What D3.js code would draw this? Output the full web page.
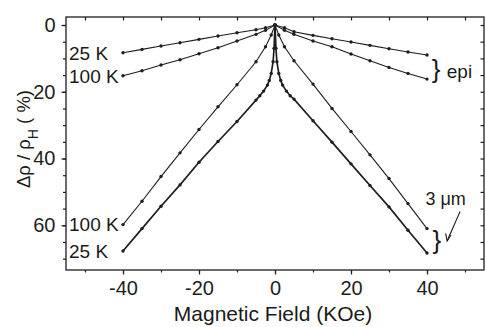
<!DOCTYPE html>
<html>
<head>
<meta charset="utf-8">
<script src="https://cdn.jsdelivr.net/npm/d3@7"></script>
<style>
  body { margin: 0; background: #fff; }
  text { font-family: "Liberation Sans", Arial, sans-serif; fill: #1a1a1a; }
</style>
</head>
<body>
<div class="main_contain"></div>
<script>
// field values (KOe) and resistance change (%)
var fieldEpi = [-40, -35, -30, -25, -20, -15, -10, -5, -2.5, 0, 2.5, 5, 10, 15, 20, 25, 30, 35, 40];
var epi25K = [8.3, 7.3, 6.3, 5.3, 4.3, 3.3, 2.3, 1.4, 0.8, 0, 0.8, 2.0, 3.1, 4.1, 5.1, 6.1, 7.1, 8.1, 9.0];
var epi100K = [15.2, 13.7, 12.0, 10.4, 8.6, 6.8, 4.8, 2.8, 1.6, 0, 1.6, 2.8, 4.8, 6.5, 8.7, 10.7, 12.7, 14.5, 16.2];

var field3um100K = [-40, -35, -30, -25, -20, -15, -10, -5, -2.5, -1, 0, 1, 2.5, 5, 10, 15, 20, 25, 30, 35, 40];
var um100K = [59.8, 52.8, 45.4, 38.3, 31.3, 24.5, 17.9, 11.0, 6.5, 3.0, 0, 3.0, 6.5, 10.7, 17.7, 25.0, 31.9, 38.9, 46.0, 53.5, 61.0];

var field3um25K = [-40, -35, -30, -25, -20, -15, -10, -5, -4, -3, -2, -1.5, -1, -0.5, -0.25, 0,
                   0.25, 0.5, 1, 1.5, 2, 3, 4, 5, 10, 15, 20, 25, 30, 35, 40];
var um25K = [67.7, 61.0, 54.3, 47.9, 41.1, 34.9, 28.9, 22.5, 21.2, 19.8, 18.0, 16.6, 14.5, 11.0, 7.0, 0,
             7.0, 11.0, 14.5, 16.6, 18.0, 19.8, 21.2, 22.2, 28.7, 35.1, 41.6, 48.1, 54.5, 61.5, 68.3];

var xTicks = [-40, -20, 0, 20, 40];
var yTicks = [0, 20, 40, 60];

function toPoints(xs, ys){
  return xs.map((d, i) => ({ H: d, v: ys[i] }));
}

var series = [
  { name: "epi25K", pts: toPoints(fieldEpi, epi25K), w: 1.1 },
  { name: "epi100K", pts: toPoints(fieldEpi, epi100K), w: 1.1 },
  { name: "um100K", pts: toPoints(field3um100K, um100K), w: 1.1 },
  { name: "um25K", pts: toPoints(field3um25K, um25K), w: 1.7 }
];

var svg_width = 486;
var svg_height = 327;
var margins = { top: 17, bottom: 57, right: 2, left: 66 };
var width = svg_width - margins.left - margins.right;
var height = svg_height - margins.top - margins.bottom;

var svg = d3.select(".main_contain")
            .append("svg")
            .attr("width", svg_width)
            .attr("height", svg_height);

var g = svg.append("g")
           .attr("transform", "translate(" + margins.left + "," + margins.top + ")");

var x = d3.scaleLinear().domain([-55, 55]).range([0, width]);
var y = d3.scaleLinear().domain([-2.4, 73.4]).range([0, height]);

var ink = "#1e1e1e";

// frame
g.append("rect")
  .attr("width", width)
  .attr("height", height)
  .style("fill", "none")
  .style("stroke", ink)
  .style("stroke-width", 1.3);

// bottom axis: major with labels, minor outward
var minorX = d3.range(-50, 51, 10);
g.append("g")
  .attr("transform", "translate(0," + height + ")")
  .call(d3.axisBottom(x).tickValues(minorX).tickSize(2.5).tickFormat(""))
  .call(a => a.select(".domain").remove());
var xAxis = g.append("g")
  .attr("transform", "translate(0," + height + ")")
  .call(d3.axisBottom(x).tickValues(xTicks).tickSize(4.5).tickPadding(6)
          .tickFormat(d => d < 0 ? "-" + Math.abs(d) : d));
xAxis.select(".domain").remove();
xAxis.selectAll("text").style("font-size", "20px").style("fill", ink).attr("font-family", null);

// top axis ticks pointing in
g.append("g")
  .call(d3.axisTop(x).tickValues(minorX).tickSize(-3.5).tickFormat(""))
  .call(a => a.select(".domain").remove());

// left axis
var minorY = d3.range(0, 71, 5);
g.append("g")
  .call(d3.axisLeft(y).tickValues(minorY).tickSize(3).tickFormat(""))
  .call(a => a.select(".domain").remove());
var yAxis = g.append("g")
  .call(d3.axisLeft(y).tickValues(yTicks).tickSize(4.5).tickPadding(6));
yAxis.select(".domain").remove();
yAxis.selectAll("text").style("font-size", "20px").style("fill", ink).attr("font-family", null);

// right axis ticks pointing in
g.append("g")
  .attr("transform", "translate(" + width + ",0)")
  .call(d3.axisRight(y).tickValues(minorY).tickSize(-3.5).tickFormat(""))
  .call(a => a.select(".domain").remove());

g.selectAll(".tick line").style("stroke", ink).style("stroke-width", 1.2);

// curves
var line = d3.line().x(d => x(d.H)).y(d => y(d.v));

g.selectAll("path.curve")
  .data(series)
  .enter()
  .append("path")
  .attr("class", "curve")
  .attr("d", d => line(d.pts))
  .style("fill", "none")
  .style("stroke", ink)
  .style("stroke-width", d => d.w);

series.forEach(s => {
  g.append("g")
    .selectAll("circle")
    .data(s.pts)
    .enter()
    .append("circle")
    .attr("cx", d => x(d.H))
    .attr("cy", d => y(d.v))
    .attr("r", 1.7)
    .style("fill", ink);
});

// curve labels, left aligned against the axis
var labels = [
  { t: "25 K", v: 8.3 },
  { t: "100 K", v: 15.2 },
  { t: "100 K", v: 59.8 },
  { t: "25 K", v: 67.7 }
];
g.selectAll("text.lab")
  .data(labels)
  .enter()
  .append("text")
  .attr("class", "lab")
  .attr("x", 3)
  .attr("y", d => y(d.v))
  .attr("dy", "0.36em")
  .style("font-size", "19px")
  .text(d => d.t);

// braces and sample tags on the right
g.append("text")
  .attr("x", x(42.4))
  .attr("y", y(13.3))
  .attr("dy", "0.33em")
  .attr("text-anchor", "middle")
  .style("font-size", "26px")
  .style("font-weight", "300")
  .text("}");
g.append("text")
  .attr("x", x(45.2))
  .attr("y", y(15.9))
  .style("font-size", "19px")
  .text("epi");

g.append("text")
  .attr("x", x(42.6))
  .attr("y", y(64.6))
  .attr("dy", "0.33em")
  .attr("text-anchor", "middle")
  .style("font-size", "26px")
  .style("font-weight", "300")
  .text("}");
g.append("text")
  .attr("x", x(44.9))
  .attr("y", y(53.9))
  .attr("text-anchor", "middle")
  .style("font-size", "18px")
  .text("3 μm");
g.append("path")
  .attr("d", "M" + x(48.7) + "," + y(55.9) + "L" + x(45.3) + "," + y(64.7))
  .style("stroke", ink)
  .style("stroke-width", 1.1);
g.append("path")
  .attr("d", "M" + x(44.9) + "," + y(62.4) + "L" + x(45.3) + "," + y(64.7) + "L" + x(46.3) + "," + y(62.9))
  .style("fill", "none")
  .style("stroke", ink)
  .style("stroke-width", 1.1);

// axis titles
svg.append("text")
  .attr("x", margins.left + x(0) - 2)
  .attr("y", 321)
  .attr("text-anchor", "middle")
  .style("font-size", "21px")
  .text("Magnetic Field (KOe)");

var yt = svg.append("text")
  .attr("transform", "translate(30,188) rotate(-90)")
  .style("font-size", "18.5px");
yt.append("tspan").text("Δρ / ρ");
yt.append("tspan").attr("baseline-shift", "sub").style("font-size", "14px").text("H");
yt.append("tspan").text(" ( %)");
</script>
</body>
</html>
